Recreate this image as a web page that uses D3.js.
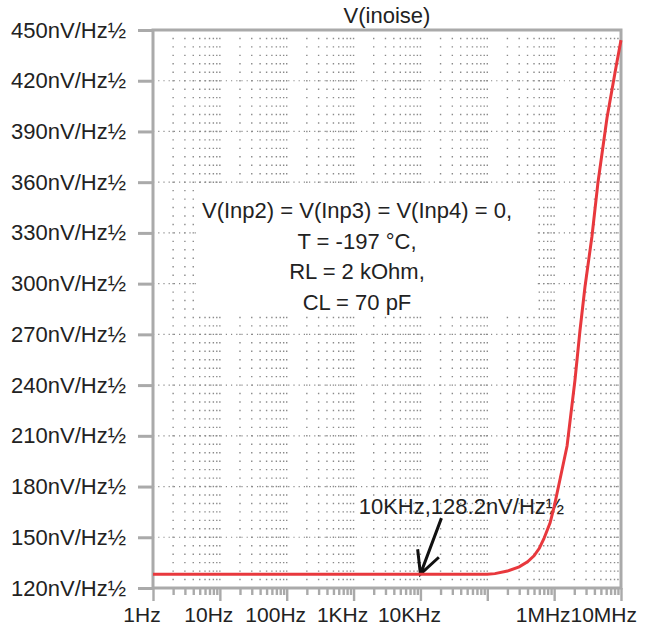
<!DOCTYPE html>
<html>
<head>
<meta charset="utf-8">
<script src="https://cdn.jsdelivr.net/npm/d3@7"></script>
<style>
  body { margin: 0; background: #fff; }
  svg text { font-family: Arial, "Liberation Sans", sans-serif; fill: #222; }
</style>
</head>
<body>
<div id="chart"></div>
<script>
// frequency (Hz) and input-referred noise (nV/Hz½)
var freqs = [1, 10, 100, 1e3, 1e4, 1e5, 1.3e5, 2e5, 3e5, 4e5, 5e5, 6e5, 7e5, 8.7e5,
    1e6, 1.22e6, 1.56e6, 2.05e6, 2.43e6, 2.89e6, 3.68e6, 4.53e6, 6.17e6, 8.41e6, 1e7];
var noise = [128.2, 128.2, 128.2, 128.2, 128.2, 128.2, 128.5, 130, 132.5, 135.5, 139, 143.5, 149, 158.5,
    168, 184, 204, 243, 272, 298, 328, 360, 398, 428, 444];

var xTickValues = [1, 10, 100, 1e3, 1e4, 1e5, 1e6, 1e7];
var xTickLabels = ["1Hz", "10Hz", "100Hz", "1KHz", "10KHz", "", "1MHz", "10MHz"];
var yTickValues = [120, 150, 180, 210, 240, 270, 300, 330, 360, 390, 420, 450];

var title = "V(inoise)";
var noteLines = ["V(Inp2) = V(Inp3) = V(Inp4) = 0,", "T = -197 \u00B0C,", "RL = 2 kOhm,", "CL = 70 pF"];
var marker = {f: 1e4, v: 128.2, label: "10KHz,128.2nV/Hz\u00BD"};

var W = 648, H = 629;
var margin = {top: 30, right: 27, bottom: 41, left: 153};
var width = W - margin.left - margin.right,
    height = H - margin.top - margin.bottom;

var svg = d3.select("#chart").append("svg")
    .attr("width", W)
    .attr("height", H);

var g = svg.append("g")
    .attr("transform", "translate(" + margin.left + "," + margin.top + ")");

var x = d3.scaleLog().domain([1, 1e7]).range([0, width]);
var y = d3.scaleLinear().domain([120, 450]).range([height, 0]);

// dotted grid
var minorX = [];
for (var d = 1; d < 1e7; d *= 10) {
    for (var m = 2; m <= 10; m++) {
        if (d * m < 1e7) minorX.push(d * m);
    }
}
var step = y(120) - y(125);

g.append("g").selectAll("line")
    .data(minorX)
    .enter().append("line")
    .attr("x1", function (d) { return x(d); })
    .attr("x2", function (d) { return x(d); })
    .attr("y1", height)
    .attr("y2", 0)
    .style("stroke", "#8a8a8a")
    .style("stroke-width", 1.4)
    .style("stroke-dasharray", "1.4," + (step - 1.4))
    .style("stroke-dashoffset", 0.7);

g.append("g").selectAll("line")
    .data(yTickValues.slice(1, -1))
    .enter().append("line")
    .attr("x1", 0)
    .attr("x2", width)
    .attr("y1", function (d) { return y(d); })
    .attr("y2", function (d) { return y(d); })
    .style("stroke", "#8a8a8a")
    .style("stroke-width", 1.2)
    .style("stroke-dasharray", "1.2,4");

// note block with its white backing
g.append("rect")
    .attr("x", 43).attr("y", 156)
    .attr("width", 341).attr("height", 127)
    .style("fill", "#fff");

g.selectAll(".note")
    .data(noteLines)
    .enter().append("text")
    .attr("class", "note")
    .attr("x", 204)
    .attr("y", function (d, i) { return 188 + i * 30.5; })
    .style("font-size", "22px")
    .style("text-anchor", "middle")
    .text(function (d) { return d; });

// axes
var xMajor = d3.axisBottom(x).tickValues(xTickValues).tickFormat("").tickSize(13).tickSizeOuter(0);
var xMinor = d3.axisBottom(x).tickValues(minorX.filter(function (d) { return [10, 100, 1e3, 1e4, 1e5, 1e6].indexOf(d) < 0; }))
    .tickFormat("").tickSize(7).tickSizeOuter(0);

var xAx = g.append("g")
    .attr("transform", "translate(0," + height + ")")
    .call(xMajor);
var xAx2 = g.append("g")
    .attr("transform", "translate(0," + height + ")")
    .call(xMinor);
[xAx, xAx2].forEach(function (a) {
    a.select(".domain").remove();
    a.selectAll(".tick line").style("stroke", "#aaa").style("stroke-width", 2.4);
});

g.append("g").selectAll("text")
    .data(xTickValues)
    .enter().append("text")
    .attr("x", function (d) { return x(d) - 11; })
    .attr("y", height + 34)
    .style("font-size", "21px")
    .style("text-anchor", function (d) { return d == 1e7 ? "end" : "middle"; })
    .attr("dx", function (d) { return d == 1e7 ? 27 : 0; })
    .text(function (d, i) { return xTickLabels[i]; });

var yAx = g.append("g")
    .call(d3.axisLeft(y).tickValues(yTickValues).tickSize(15).tickPadding(12).tickSizeOuter(0)
        .tickFormat(function (d) { return d + "nV/Hz\u00BD"; }));
yAx.select(".domain").remove();
yAx.selectAll(".tick line").style("stroke", "#aaa").style("stroke-width", 3);
yAx.selectAll(".tick text").style("font-size", "22px").style("font-family", "Arial, 'Liberation Sans', sans-serif").style("fill", "#222");

// frame
g.append("rect")
    .attr("x", 0).attr("y", 0)
    .attr("width", width).attr("height", height)
    .style("fill", "none")
    .style("stroke", "#aaa")
    .style("stroke-width", 3);

svg.append("text")
    .attr("x", 387)
    .attr("y", 23)
    .style("font-size", "22px")
    .style("text-anchor", "middle")
    .text(title);

// marker label, arrow
var mx = x(marker.f), my = y(marker.v);
var tail = [mx + 21, my - 56];

var label = g.append("text")
    .attr("x", mx + 41)
    .attr("y", my - 60)
    .style("font-size", "22px")
    .style("text-anchor", "middle")
    .text(marker.label);

var ang = Math.atan2(tail[1] - my, tail[0] - mx), wing = 25, spread = 0.47;
g.append("path")
    .attr("d", "M" + tail[0] + "," + tail[1] + "L" + mx + "," + my +
        "M" + (mx + wing * Math.cos(ang - spread)) + "," + (my + wing * Math.sin(ang - spread)) +
        "L" + mx + "," + my +
        "L" + (mx + wing * Math.cos(ang + spread)) + "," + (my + wing * Math.sin(ang + spread)))
    .style("fill", "none")
    .style("stroke", "#111")
    .style("stroke-width", 3);

// noise curve
var line = d3.line()
    .x(function (d, i) { return x(freqs[i]); })
    .y(function (d) { return y(d); });

g.append("path")
    .datum(noise)
    .attr("d", line)
    .style("fill", "none")
    .style("stroke", "#e8383d")
    .style("stroke-width", 3);
</script>
</body>
</html>
